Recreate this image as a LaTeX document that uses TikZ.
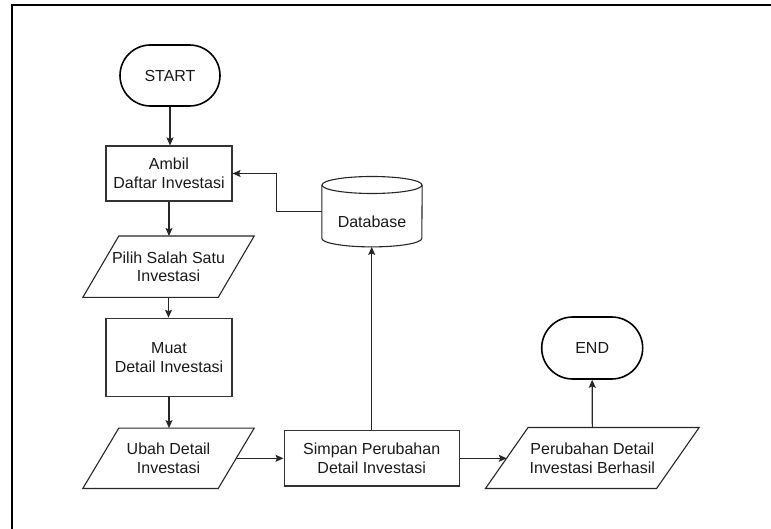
\documentclass[tikz,border=0pt]{standalone}
\usepackage{fontspec}
\setmainfont{Liberation Sans}
\usetikzlibrary{arrows.meta,shapes.misc}
\begin{document}
\begin{tikzpicture}[x=1pt,y=-1pt,
 every node/.style={font=\fontsize{16}{18.8}\selectfont, align=center, inner sep=0pt, text=black!90},
 term/.style={rounded rectangle, draw, line width=1.6pt, minimum width=100pt, minimum height=61pt},
 proc/.style={rectangle, draw=black!80, line width=1.1pt, minimum width=126pt},
 io/.style={rectangle, minimum height=61pt},
 shapeline/.style={draw=black!85, line width=1.1pt},
 conn/.style={draw=black!85, line width=1.1pt, -{Stealth[length=8pt,width=7pt,inset=1.5pt]}}]
\useasboundingbox (0,0) rectangle (771,529);
\draw[line width=2pt] (11.5,529) -- (11.5,5.5) -- (771,5.5);

\node[term] (start) at (170,75.5) {START};
\node[proc, minimum height=55pt] (ambil) at (169,173.5) {Ambil\\Daftar Investasi};
\node[io, minimum width=135pt] (pilih) at (168.5,266.7) {Pilih Salah Satu\\Investasi};
\node[proc, minimum height=78.4pt] (muat) at (169,357.5) {Muat\\Detail Investasi};
\node[io, minimum width=135pt, minimum height=60pt] (ubah) at (168.5,458.3) {Ubah Detail\\Investasi};
\node[proc, minimum width=175.3pt, minimum height=55.3pt] (simpan) at (371.7,458.3) {Simpan Perubahan\\Detail Investasi};
\node[io, minimum width=170.7pt, minimum height=60.6pt] (hasil) at (592.3,458) {Perubahan Detail\\Investasi Berhasil};
\node[term, minimum width=101pt, minimum height=62pt] (end) at (592.2,348) {END};
\node[minimum width=100pt, minimum height=70pt] (db) at (372,211.7) {};
\node (dblabel) at (372,221.7) {Database};

% parallelograms
\draw[shapeline] ([xshift=18pt]pilih.north west) -- ([xshift=18pt]pilih.north east) -- ([xshift=-18pt]pilih.south east) -- ([xshift=-18pt]pilih.south west) -- cycle;
\draw[shapeline] ([xshift=18pt]ubah.north west) -- ([xshift=18pt]ubah.north east) -- ([xshift=-18pt]ubah.south east) -- ([xshift=-18pt]ubah.south west) -- cycle;
\draw[shapeline] ([xshift=21.3pt]hasil.north west) -- ([xshift=21.3pt]hasil.north east) -- ([xshift=-21.3pt]hasil.south east) -- ([xshift=-21.3pt]hasil.south west) -- cycle;

% cylinder
\draw[shapeline] ([yshift=-8.5pt]db.north) ellipse [x radius=50pt, y radius=8.5pt];
\draw[shapeline] ([yshift=-8.5pt]db.north west) -- ([yshift=8.5pt]db.south west) arc[start angle=180, end angle=360, x radius=50pt, y radius=8.5pt] -- ([yshift=-8.5pt]db.north east);

% connectors
\draw[conn] (start.south) -- (start.south |- ambil.north);
\draw[conn] (ambil.south) -- (ambil.south |- pilih.north);
\draw[conn] (pilih.south) -- (pilih.south |- muat.north);
\draw[conn] (muat.south) -- (muat.south |- ubah.north);
\draw[conn] (ubah.east) -- (simpan.west);
\draw[conn] (simpan.east) -- (simpan.east -| hasil.west);
\draw[conn] (hasil.north) -- (end.south);
\draw[conn] (simpan.north) -- (simpan.north |- db.south);
\draw[conn] (db.west) -- ++(-45pt,0) |- (ambil.east);
\end{tikzpicture}
\end{document}
